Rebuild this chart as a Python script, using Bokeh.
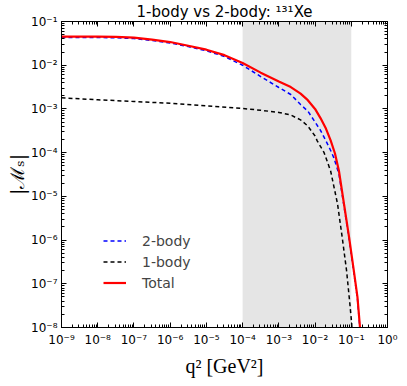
import numpy as np
from bokeh.plotting import figure
from bokeh.models import (BoxAnnotation, FixedTicker, CustomJSTickFormatter, LogAxis,
                          Legend, LegendItem, Range1d)
from bokeh.embed import file_html
from bokeh.resources import INLINE

# ---- data: log10(q^2 / GeV^2) and log10|M_S| ----
q2_log_2body = [-9.0, -8.0, -7.5, -7.0, -6.5, -6.0, -5.5, -5.0, -4.5, -4.0, -3.5, -3.0,
                -2.67, -2.4, -2.2, -2.0, -1.85, -1.7, -1.57, -1.48, -1.34, -1.2, -1.06,
                -0.93, -0.83, -0.76, -0.72]
m_log_2body = [-1.365, -1.367, -1.372, -1.39, -1.435, -1.49, -1.575, -1.67, -1.80, -2.0,
               -2.26, -2.51, -2.67, -2.90, -3.05, -3.30, -3.49, -3.73, -3.95, -4.12,
               -4.49, -5.23, -5.98, -6.74, -7.34, -8.04, -8.45]

q2_log_1body = [-9.0, -8.0, -7.0, -6.0, -5.0, -4.0, -3.5, -3.0, -2.67, -2.4, -2.2, -2.0,
                -1.94, -1.75, -1.57, -1.38, -1.25, -1.13, -1.04, -0.99, -0.96]
m_log_1body = [-2.747, -2.79, -2.83, -2.87, -2.93, -2.99, -3.03, -3.08, -3.14, -3.25,
               -3.39, -3.62, -3.73, -4.0, -4.42, -5.17, -5.94, -6.70, -7.45, -7.90, -8.3]

q2_log_total = [-9.0, -8.0, -7.5, -7.0, -6.5, -6.0, -5.5, -5.0, -4.5, -4.0, -3.5, -3.0,
                -2.67, -2.4, -2.2, -2.0, -1.85, -1.7, -1.57, -1.45, -1.34, -1.2, -1.06,
                -0.93, -0.83, -0.76, -0.72]
m_log_total = [-1.345, -1.347, -1.352, -1.37, -1.415, -1.47, -1.555, -1.645, -1.77, -1.95,
               -2.17, -2.37, -2.50, -2.65, -2.80, -3.0, -3.21, -3.45, -3.72, -4.02,
               -4.42, -5.18, -5.94, -6.70, -7.30, -7.99, -8.4]

x_tick_exps = list(range(-9, 1))
y_tick_exps = list(range(-8, 0))
shade_q2 = (1e-4, 1e-1)
title_text = "1-body vs 2-body: \u00b9\u00b3\u00b9Xe"
x_label = "q\u00b2 [GeV\u00b2]"
y_label = "|\u2133\u209b|"
legend_labels = ["2-body", "1-body", "Total"]

p = figure(width=406, height=385, x_axis_type="log", y_axis_type="log",
           x_range=Range1d(1e-9, 1e0), y_range=Range1d(1e-8, 1e-1),
           output_backend="svg", toolbar_location=None,
           min_border_left=61, min_border_right=19, min_border_top=20, min_border_bottom=58)
p.grid.visible = False
p.outline_line_color = "black"
p.outline_line_width = 1
p.background_fill_color = "white"

p.title.text = title_text
p.title.align = "center"
p.title.text_font = "DejaVu Sans"
p.title.text_font_size = "15px"
p.title.text_font_style = "normal"
p.title.text_color = "black"
p.title.standoff = 1
p.title.offset = 0

def make_ticker(exps):
    major = [10.0 ** e for e in exps]
    minor = [m * 10.0 ** e for e in exps[:-1] for m in range(2, 10)]
    return FixedTicker(ticks=major, minor_ticks=minor)

sup_fmt = CustomJSTickFormatter(code="""
const sup = {'-':'\u207b','0':'\u2070','1':'\u00b9','2':'\u00b2','3':'\u00b3','4':'\u2074',
             '5':'\u2075','6':'\u2076','7':'\u2077','8':'\u2078','9':'\u2079'};
const e = Math.round(Math.log10(tick));
return '10' + String(e).split('').map(c => sup[c]).join('');
""")
blank_fmt = CustomJSTickFormatter(code="return '';")

def style_axis(ax, labels=True):
    ax.axis_line_color = "black"
    ax.axis_line_width = 1
    ax.major_tick_in = 5
    ax.major_tick_out = 0
    ax.minor_tick_in = 3
    ax.minor_tick_out = 0
    ax.major_tick_line_color = "black"
    ax.minor_tick_line_color = "black"
    ax.major_label_text_font = "DejaVu Sans"
    ax.major_label_text_font_size = "12px"
    ax.major_label_text_color = "black"
    ax.axis_label_text_color = "black"
    if not labels:
        ax.major_label_standoff = 0

xa = p.xaxis[0]
xa.ticker = make_ticker(x_tick_exps)
xa.formatter = sup_fmt
style_axis(xa)
xa.major_label_standoff = 5
xa.axis_label = x_label
xa.axis_label_text_font = "Liberation Serif"
xa.axis_label_text_font_style = "normal"
xa.axis_label_text_font_size = "20px"
xa.axis_label_standoff = 5

ya = p.yaxis[0]
ya.ticker = make_ticker(y_tick_exps)
ya.formatter = sup_fmt
style_axis(ya)
ya.major_label_standoff = 4
ya.axis_label = y_label
ya.axis_label_text_font = "DejaVu Serif"
ya.axis_label_text_font_style = "normal"
ya.axis_label_text_font_size = "19px"
ya.axis_label_standoff = 0

top = LogAxis(ticker=make_ticker(x_tick_exps), formatter=blank_fmt)
style_axis(top, labels=False)
p.add_layout(top, "above")
right = LogAxis(ticker=make_ticker(y_tick_exps), formatter=blank_fmt)
style_axis(right, labels=False)
p.add_layout(right, "right")

p.add_layout(BoxAnnotation(left=shade_q2[0], right=shade_q2[1], fill_color="#e5e5e5",
                           fill_alpha=1.0, line_color=None, level="underlay"))

r_2b = p.line(10.0 ** np.array(q2_log_2body), 10.0 ** np.array(m_log_2body),
              line_color="#0000ff", line_width=1.5, line_dash="4 3")
r_1b = p.line(10.0 ** np.array(q2_log_1body), 10.0 ** np.array(m_log_1body),
              line_color="black", line_width=1.5, line_dash="4 3")
r_tot = p.line(10.0 ** np.array(q2_log_total), 10.0 ** np.array(m_log_total),
               line_color="#ff0000", line_width=2.2)

legend = Legend(items=[LegendItem(label=legend_labels[0], renderers=[r_2b]),
                       LegendItem(label=legend_labels[1], renderers=[r_1b]),
                       LegendItem(label=legend_labels[2], renderers=[r_tot])],
                location=(42, 34), padding=0, margin=0, spacing=0,
                glyph_width=23, glyph_height=21, label_standoff=16,
                label_text_font="DejaVu Sans", label_text_font_size="14px",
                border_line_color=None, background_fill_alpha=0)
p.add_layout(legend)

open("out.html", "w").write(file_html(p, INLINE))
